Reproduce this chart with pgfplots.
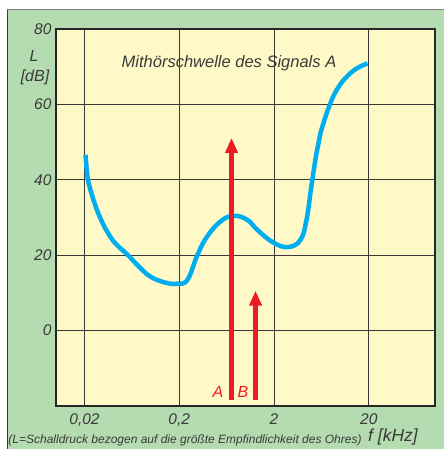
\documentclass[border=0pt]{standalone}
\usepackage{pgfplots}
\pgfplotsset{compat=1.18}
\usepackage{fontspec}
\setmainfont{Liberation Sans}
\usetikzlibrary{arrows.meta}
\definecolor{panelgreen}{HTML}{B5DBB0}
\definecolor{plotyellow}{HTML}{FFF9C7}
\definecolor{txtgray}{HTML}{3A3A3A}
\definecolor{sigred}{HTML}{ED1C24}
\definecolor{curveblue}{HTML}{00AEEF}
\begin{document}
\begin{tikzpicture}
\path[use as bounding box] (0pt,0pt) rectangle (444pt,449pt);
\fill[white] (0pt,0pt) rectangle (444pt,449pt);
\fill[panelgreen] (7pt,0pt) rectangle (444pt,439pt);
\draw[gray, line width=1pt] (7pt,439pt) -- (444pt,439pt);
\draw[txtgray, line width=1pt] (7pt,0pt) -- (7pt,439pt);
\begin{axis}[
  at={(56pt,43pt)}, anchor=south west,
  scale only axis, width=379pt, height=377pt,
  xmode=log, xmin=0.01, xmax=100, ymin=-20, ymax=80,
  xtick={0.02,0.2,2,20}, xticklabels={{0,02},{0,2},2,20},
  ytick={0,20,40,60,80},
  minor xtick={},
  major tick length=0pt, minor tick length=0pt,
  grid=major,
  major grid style={draw=txtgray, line width=0.9pt},
  axis line style={draw=black!85, line width=1.3pt},
  axis background/.style={fill=plotyellow},
  /pgf/number format/assume math mode=true,
  ticklabel style={font=\itshape\fontsize{15.5}{15.5}\selectfont, text=txtgray},
  xticklabel style={yshift=-4pt},
  yticklabel style={xshift=-1pt},
  clip=false,
]
\addplot[curveblue, line width=4.5pt, smooth, tension=0.7, line cap=butt, line join=round] coordinates {
(0.02049,46.62) (0.02099,43.44) (0.02167,40.26) (0.02313,37.27) (0.02612,33.09)
(0.02950,29.72) (0.03498,26.09) (0.04248,23.10) (0.05685,20.13) (0.07500,17.00)
(0.09945,14.30) (0.1432,12.72) (0.1917,12.45)
(0.2444,13.51) (0.3116,20.13) (0.3945,24.98) (0.5450,28.95) (0.7474,30.46)
(1.043,29.40) (1.330,26.75) (1.976,23.31) (2.845,22.17) (3.808,24.11)
(4.406,29.40) (4.95,38.15) (5.62,47.15) (6.193,52.45) (7.891,60.40)
(9.59,64.6) (11.93,67.55) (15.22,69.67) (19.40,70.86)
};
\addplot[sigred, line width=4.5pt, -{Triangle[width=12pt,length=15pt]}] coordinates {(0.712,-18.3) (0.712,51.1)};
\addplot[sigred, line width=4.5pt, -{Triangle[width=12pt,length=15pt]}] coordinates {(1.276,-18.3) (1.276,10.6)};
\end{axis}
\node[font=\itshape\fontsize{16.5}{16.5}\selectfont, text=txtgray] at (229pt,386pt) {Mithörschwelle des Signals A};
\node[font=\itshape\fontsize{16}{16}\selectfont, text=txtgray] at (34pt,393pt) {L};
\node[font=\itshape\fontsize{16}{16}\selectfont, text=txtgray] at (35pt,372pt) {[dB]};
\node[font=\itshape\fontsize{17.5}{17.5}\selectfont, text=txtgray] at (393pt,12pt) {f [kHz]};
\node[font=\itshape\fontsize{12}{12}\selectfont, text=txtgray] at (185pt,9pt) {(L=Schalldruck bezogen auf die größte Empfindlichkeit des Ohres)};
\node[font=\itshape\fontsize{16}{16}\selectfont, text=sigred] at (218pt,57pt) {A};
\node[font=\itshape\fontsize{16}{16}\selectfont, text=sigred] at (243pt,57pt) {B};
\end{tikzpicture}
\end{document}
